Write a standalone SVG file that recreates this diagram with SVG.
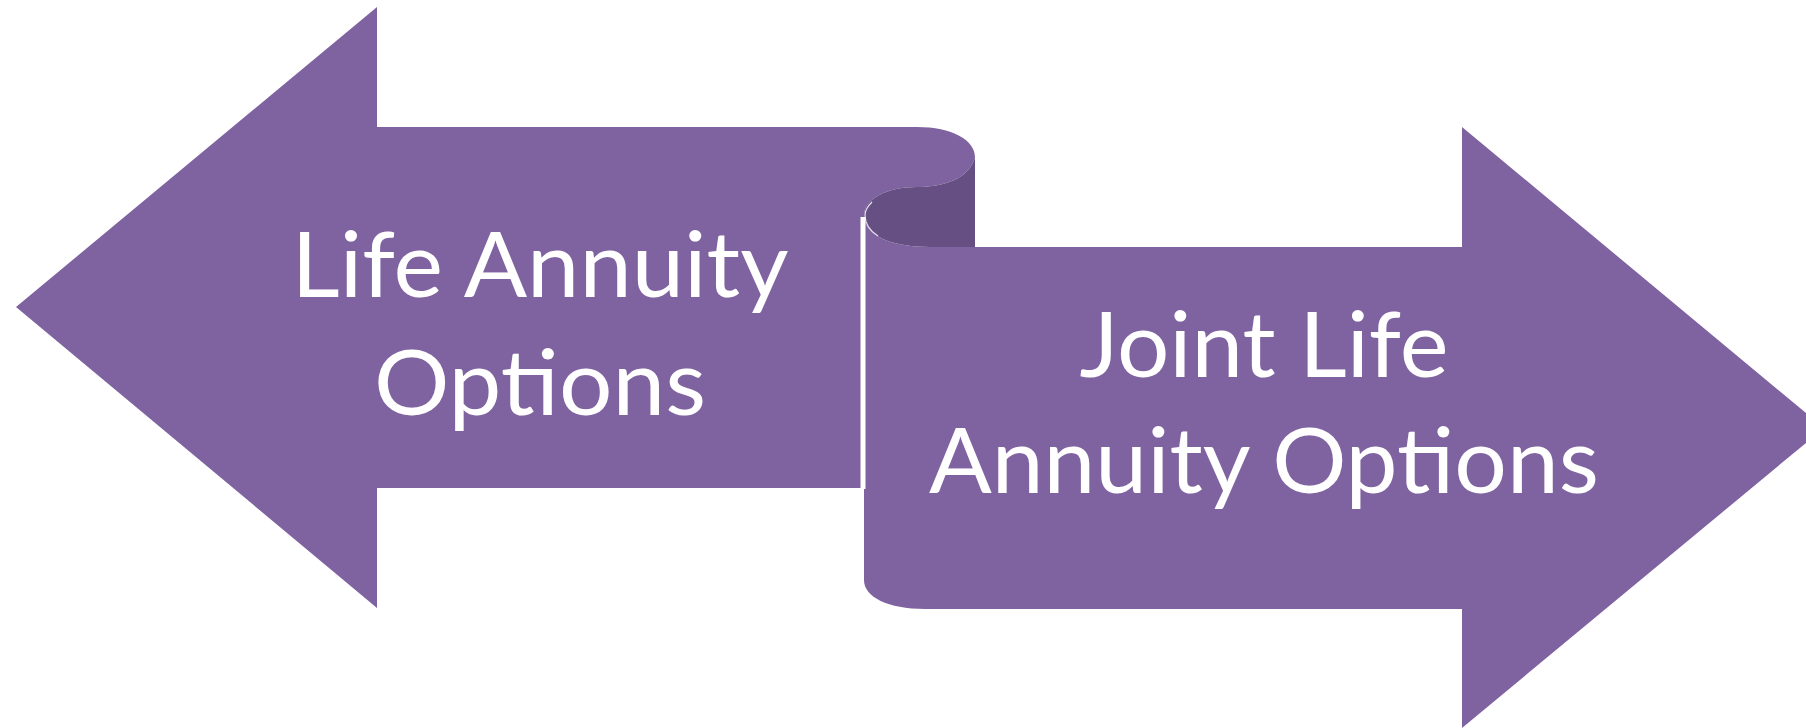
<svg xmlns="http://www.w3.org/2000/svg" width="1806" height="728" viewBox="0 0 1806 728">
  <style>
    .shape { fill: #7F63A1; }
    .curl { fill: #664F82; }
    .label { fill: #FFFFFF; font-family: Lato, "Noto Sans", "Liberation Sans", sans-serif; font-size: 91px; text-anchor: middle; }
    .gap { stroke: #FFFFFF; stroke-width: 5; fill: none; }
    .edge { stroke: #E6E0EE; stroke-width: 1.2; fill: none; }
  </style>
  <rect x="0" y="0" width="1806" height="728" fill="#FFFFFF"/>
  <g id="joint-life-arrow">
    <path class="shape" d="M864,215 C864,235 890,247 930,247 L1462,247 L1462,127 L1824,428 L1462,728 L1462,609 L925,609 C888,609 864,597 864,580 Z"/>
    <text class="label" x="1264" y="377" textLength="369" lengthAdjust="spacingAndGlyphs">Joint Life</text>
    <text class="label" x="1264" y="493" textLength="670" lengthAdjust="spacingAndGlyphs">Annuity Options</text>
  </g>
  <g id="life-arrow">
    <path class="shape" d="M16,307 L377,7 L377,127 L917,127 C952,127 975,140 975,157 C970,178 945,187 917,187 C885,187 864,200 864,215 L864,488 L377,488 L377,608 Z"/>
    <path class="curl" d="M975,157 C970,178 945,187 917,187 C885,187 864,200 864,215 C864,235 890,247 930,247 L975,247 Z"/>
    <path class="edge" d="M872,202 C867,207 865,211 865,215 C865,224 870,231 878,236"/>
    <line class="gap" x1="863" y1="217" x2="863" y2="489"/>
    <text class="label" x="540" y="297" textLength="497" lengthAdjust="spacingAndGlyphs">Life Annuity</text>
    <text class="label" x="540" y="415" textLength="332" lengthAdjust="spacingAndGlyphs">Options</text>
  </g>
  <g id="connectors"/>
</svg>
